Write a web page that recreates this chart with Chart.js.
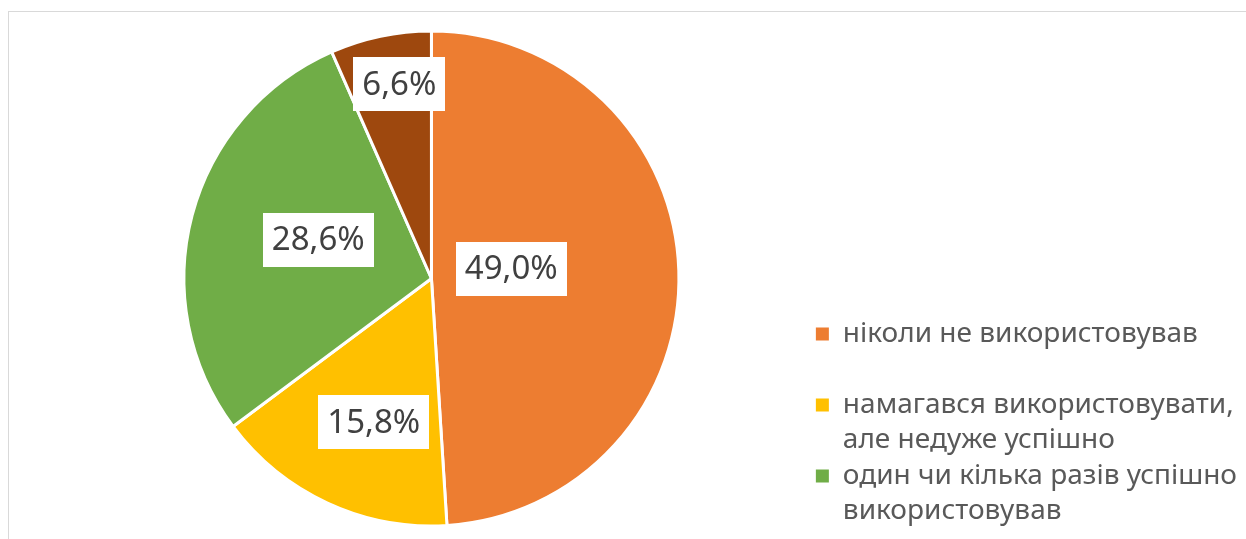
<!DOCTYPE html>
<html lang="uk">
<head>
<meta charset="utf-8">
<title>Використання</title>
<script src="https://cdn.jsdelivr.net/npm/chart.js@4.4.1/dist/chart.umd.min.js"></script>
<style>
  html, body { margin: 0; padding: 0; background: #fff; width: 1246px; height: 539px; overflow: hidden; }
  .frame { position: absolute; left: 8px; top: 11px; width: 1260px; height: 600px; border: 1px solid #d9d9d9; box-sizing: border-box; }
  .chart-box { position: absolute; left: 9px; top: -50px; width: 1240px; height: 660px; }
</style>
</head>
<body>
<div class="frame"></div>
<div class="chart-box"><canvas id="usageChart"></canvas></div>
<script>
// категорії відповідей (рядки легенди)
const categories = [
    ['ніколи не використовував', ''],
    ['намагався використовувати,', 'але недуже успішно'],
    ['один чи кілька разів успішно', 'використовував'],
    ['регулярно використовую', '']
];
const shares = [49.0, 15.8, 28.6, 6.6];
const sliceColors = ['#ED7D31', '#FFC000', '#70AD47', '#9E480E'];

// де стоять підписи: частка радіуса і поворот від середини сектора (градуси)
const labelRadius = [0.325, 0.626, 0.483, 0.796];
const labelTurn = [-5, -3, 4, 2.5];

const pieLabels = {
    id: 'pieLabels',
    afterDatasetsDraw(chart) {
        const ctx = chart.ctx;
        const values = chart.data.datasets[0].data;
        const meta = chart.getDatasetMeta(0);
        ctx.save();
        ctx.font = '33px "Noto Sans"';
        ctx.textAlign = 'center';
        ctx.textBaseline = 'middle';
        meta.data.forEach((arc, i) => {
            const p = arc.getProps(['x', 'y', 'startAngle', 'endAngle', 'outerRadius'], true);
            const mid = (p.startAngle + p.endAngle) / 2 + labelTurn[i] * Math.PI / 180;
            const r = p.outerRadius * labelRadius[i];
            const cx = p.x + Math.cos(mid) * r;
            const cy = p.y + Math.sin(mid) * r;
            const text = values[i].toFixed(1).replace('.', ',') + '%';
            const w = Math.round(ctx.measureText(text).width + 18);
            const h = 54;
            ctx.fillStyle = '#fff';
            ctx.fillRect(Math.round(cx - w / 2), Math.round(cy - h / 2), w, h);
            ctx.fillStyle = '#404040';
            ctx.fillText(text, cx, cy + 1);
        });
        ctx.restore();
    }
};

const ctx = document.getElementById('usageChart').getContext('2d');
new Chart(ctx, {
    type: 'pie',
    data: {
        labels: categories,
        datasets: [{
            data: shares,
            backgroundColor: sliceColors,
            borderColor: '#fff',
            borderWidth: 3,
            radius: 247.5
        }]
    },
    options: {
        responsive: true,
        maintainAspectRatio: false,
        animation: false,
        layout: { padding: { left: 39, top: 3, bottom: 6, right: 2 } },
        plugins: {
            legend: {
                position: 'right',
                align: 'end',
                labels: {
                    boxWidth: 13,
                    boxHeight: 13,
                    padding: 1,
                    color: '#595959',
                    font: { family: 'Noto Sans', size: 28, lineHeight: 35 / 28 },
                    generateLabels: function(chart) {
                        const items = Chart.overrides.pie.plugins.legend.labels.generateLabels(chart);
                        items.forEach(item => { item.lineWidth = 0; });
                        return items;
                    }
                }
            },
            tooltip: { enabled: false }
        }
    },
    plugins: [pieLabels]
});
</script>
</body>
</html>
